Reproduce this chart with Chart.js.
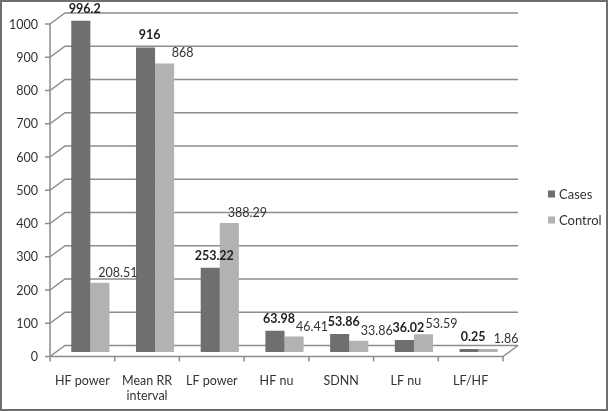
<!DOCTYPE html>
<html>
<head>
<meta charset="utf-8">
<script src="https://cdn.jsdelivr.net/npm/chart.js@4.4.0/dist/chart.umd.min.js"></script>
<style>
  html, body { margin: 0; padding: 0; background: #fff; }
  #wrap { width: 608px; height: 411px; }
</style>
</head>
<body>
<div id="wrap"><canvas id="hrv" width="608" height="411"></canvas></div>
<script>
// values
const categories = ['HF power', ['Mean RR', 'interval'], 'LF power', 'HF nu', 'SDNN', 'LF nu', 'LF/HF'];
const casesValues = [996.2, 916, 253.22, 63.98, 53.86, 36.02, 0.25];
const controlValues = [208.51, 868, 388.29, 46.41, 33.86, 53.59, 1.86];
const yTicks = [0, 100, 200, 300, 400, 500, 600, 700, 800, 900, 1000];

const FONT = 'Lato, "Open Sans", sans-serif';
const GRID = '#8c8c8c';
const TEXT = '#333333';

// the excel-ish 3d look: back wall up/right of the front plane
const DEPTH_X = 15;
const BACK_Y = -6.5;
const FRONT_Y = 4.5;
const BAR_SHIFT = 8;

const depthPlugin = {
  id: 'depth',
  beforeDatasetsDraw(chart) {
    const ctx = chart.ctx, a = chart.chartArea;
    const ys = chart.scales.y;
    ctx.save();
    ctx.strokeStyle = GRID;
    ctx.lineWidth = 1.5;
    yTicks.forEach(v => {
      const py = ys.getPixelForValue(v);
      ctx.beginPath();
      ctx.moveTo(a.left, py + FRONT_Y);
      ctx.lineTo(a.left + DEPTH_X, py + BACK_Y);
      ctx.lineTo(a.right + DEPTH_X, py + BACK_Y);
      ctx.moveTo(a.left - 5, py + FRONT_Y);
      ctx.lineTo(a.left, py + FRONT_Y);
      ctx.stroke();
    });
    const top = ys.getPixelForValue(yTicks[yTicks.length - 1]) + FRONT_Y;
    const zero = ys.getPixelForValue(0) + FRONT_Y;
    ctx.beginPath();
    ctx.moveTo(a.left, top);
    ctx.lineTo(a.left, zero);
    ctx.lineTo(a.right, zero);
    ctx.lineTo(a.right + DEPTH_X, ys.getPixelForValue(0) + BACK_Y);
    const w = (a.right - a.left) / categories.length;
    for (let i = 0; i <= categories.length; i++) {
      const bx = a.left + i * w;
      ctx.moveTo(bx, zero);
      ctx.lineTo(bx, zero + 5);
    }
    ctx.stroke();
    ctx.restore();
    ctx.save();
    ctx.translate(BAR_SHIFT, 0);
  },
  afterDatasetsDraw(chart) {
    const ctx = chart.ctx;
    ctx.restore();
    ctx.save();
    ctx.translate(BAR_SHIFT, 0);
    ctx.textAlign = 'center';
    ctx.textBaseline = 'middle';
    chart.data.datasets.forEach((ds, di) => {
      const meta = chart.getDatasetMeta(di);
      ctx.font = (di === 0 ? 'bold ' : '') + '12.5px ' + FONT;
      ctx.fillStyle = di === 0 ? '#1e1e1e' : TEXT;
      meta.data.forEach((bar, i) => {
        const dx = di === 0 ? 4 : 18;
        const dy = di === 0 ? -12 : -10;
        ctx.fillText(String(ds.data[i]), bar.x + dx, bar.y + dy);
      });
    });
    ctx.restore();
  },
  afterDraw(chart) {
    const ctx = chart.ctx;
    ctx.save();
    // legend
    ctx.font = '13px ' + FONT;
    ctx.textBaseline = 'middle';
    chart.data.datasets.forEach((ds, di) => {
      const ly = 194 + di * 26;
      ctx.fillStyle = ds.backgroundColor;
      ctx.fillRect(548, ly - 3.5, 7, 7);
      ctx.fillStyle = TEXT;
      ctx.fillText(ds.label, 559, ly + 1);
    });
    // outer frame
    ctx.strokeStyle = '#6e6e6e';
    ctx.lineWidth = 2;
    ctx.strokeRect(1, 1, 606, 409);
    ctx.restore();
  }
};

const ctx = document.getElementById('hrv').getContext('2d');
new Chart(ctx, {
  type: 'bar',
  data: {
    labels: categories,
    datasets: [{
      label: 'Cases',
      data: casesValues,
      backgroundColor: '#6f6f71',
      categoryPercentage: 0.59,
      barPercentage: 1.0,
      minBarLength: 3
    }, {
      label: 'Control',
      data: controlValues,
      backgroundColor: '#b2b2b4',
      categoryPercentage: 0.59,
      barPercentage: 1.0,
      minBarLength: 3
    }]
  },
  options: {
    responsive: false,
    animation: false,
    devicePixelRatio: 1,
    layout: { padding: { top: 19, right: 105, bottom: 0, left: 0 } },
    plugins: {
      legend: { display: false },
      tooltip: { enabled: false }
    },
    scales: {
      x: {
        grid: { display: false, drawTicks: false },
        border: { display: false },
        ticks: {
          padding: 21,
          maxRotation: 0,
          autoSkip: false,
          color: TEXT,
          font: { family: FONT, size: 12.5, lineHeight: 1.2 }
        },
        afterFit(scale) { scale.height = 59; }
      },
      y: {
        min: 0,
        max: 1000,
        grid: { display: false, drawTicks: false },
        border: { display: false },
        ticks: {
          stepSize: 100,
          padding: 12,
          labelOffset: 5,
          color: TEXT,
          font: { family: FONT, size: 12.5 },
          callback: v => String(v)
        },
        afterFit(scale) { scale.width = 50; }
      }
    }
  },
  plugins: [depthPlugin]
});
</script>
</body>
</html>
